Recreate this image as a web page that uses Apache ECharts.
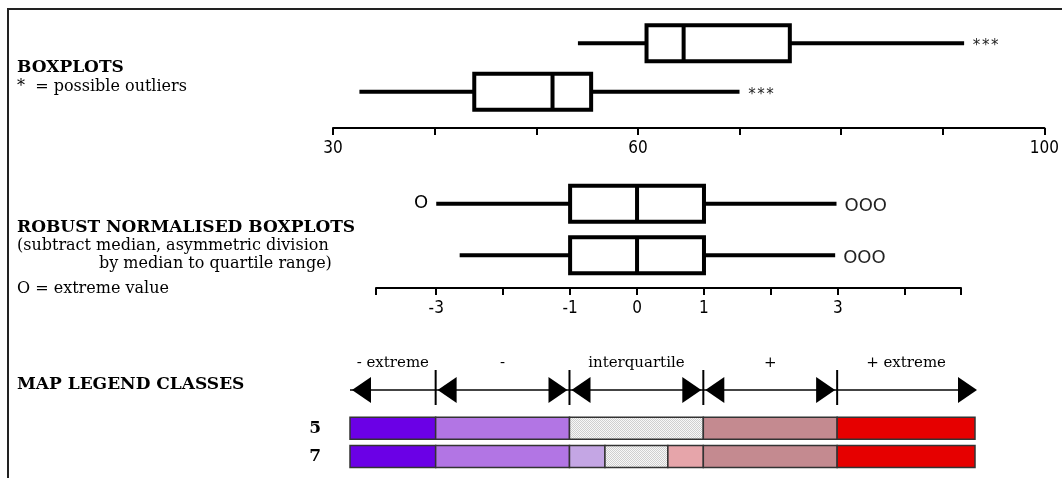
<!DOCTYPE html>
<html>
<head>
<meta charset="utf-8">
<style>
  html, body { margin: 0; padding: 0; background: #fff; }
  #chart { width: 1062px; height: 478px; }
</style>
<script src="https://cdn.jsdelivr.net/npm/echarts@6/dist/echarts.min.js"></script>
</head>
<body>
<div id="chart"></div>
<script>
// raw boxplots: low whisker, Q1, median, Q3, high whisker
const rawRows = ['A', 'B']
const rawBoxes = [
  [54.1, 60.85, 64.5, 74.95, 92.1],
  [32.6, 43.9, 51.6, 55.4, 70.0]
]
const rawLowMarks = ['', '']
const rawHighMarks = ['***', '***']
const rawLabels = [30, 60, 100]

// robust normalised boxplots
const normRows = ['A', 'B']
const normBoxes = [
  [-3.0, -1.0, 0, 1.0, 2.98],
  [-2.65, -1.0, 0, 1.0, 2.96]
]
const normLowMarks = ['O', '']
const normHighMarks = ['OOO', 'OOO']
const normTicks = [-3.9, -3, -2, -1, 0, 1, 2, 3, 4, 4.84]
const normLabels = [-3, -1, 0, 1, 3]

// map legend classes (same normalised units)
const classBreaks = [-4.28, -3, -1, 1, 3, 5.06]
const classNames = ['- extreme', '-', 'interquartile', '+', '+ extreme']
const legendRows = ['5', '7']
const legend5Breaks = [-4.28, -3, -1, 1, 3, 5.06]
const legend7Breaks = [-4.28, -3, -1, -0.47, 0.47, 1, 3, 5.06]

// dotted fill for the interquartile class
const dots = document.createElement('canvas')
dots.width = dots.height = 2
const g = dots.getContext('2d')
g.fillStyle = '#f7f7f7'
g.fillRect(0, 0, 2, 2)
g.fillStyle = '#cfcfcf'
g.fillRect(0, 0, 1, 1)
g.fillRect(1, 1, 1, 1)
const dotFill = { image: dots, repeat: 'repeat' }

const pal5 = ['#6b00e6', '#b275e4', dotFill, '#c48a90', '#e60000']
const pal7 = ['#6b00e6', '#b275e4', '#c4a6e4', dotFill, '#e6a5aa', '#c48a90', '#e60000']

const serif = '"DejaVu Serif", "Liberation Serif", serif'
const narrow = '"Liberation Sans Narrow", "DejaVu Sans Condensed", sans-serif'

// box + whiskers drawn through the axis scales
const boxRender = (lowMarks, highMarks, markFont) => (params, api) => {
  const row = api.value(0)
  const lo = api.coord([api.value(1), row])
  const q1 = api.coord([api.value(2), row])
  const md = api.coord([api.value(3), row])
  const q3 = api.coord([api.value(4), row])
  const hi = api.coord([api.value(5), row])
  const y = lo[1]
  const h = 36
  const ink = { stroke: '#000', lineWidth: 4 }
  return {
    type: 'group',
    children: [
      { type: 'line', shape: { x1: lo[0], y1: y, x2: q1[0], y2: y }, style: ink },
      { type: 'line', shape: { x1: q3[0], y1: y, x2: hi[0], y2: y }, style: ink },
      { type: 'rect', shape: { x: q1[0], y: y - h / 2, width: q3[0] - q1[0], height: h },
        style: { fill: '#fff', stroke: '#000', lineWidth: 4 } },
      { type: 'line', shape: { x1: md[0], y1: y - h / 2, x2: md[0], y2: y + h / 2 }, style: ink },
      { type: 'text', x: lo[0] - 8, y: y,
        style: { text: lowMarks[params.dataIndex], font: markFont, fill: '#000', align: 'right', verticalAlign: 'middle' } },
      { type: 'text', x: hi[0] + 8, y: y + 3,
        style: { text: highMarks[params.dataIndex], font: markFont, fill: '#222', align: 'left', verticalAlign: 'middle' } }
    ]
  }
}

const arrowHead = (tip, y, dir) => ({
  type: 'polygon',
  shape: { points: [[tip, y], [tip + dir * 19, y - 13], [tip + dir * 19, y + 13]] },
  style: { fill: '#000' }
})

const chart = echarts.init(document.getElementById('chart'))
const option = {
  animation: false,
  backgroundColor: '#fff',
  grid: [
    { left: 333, right: 14, top: 19, height: 97 },
    { left: 376, right: 101, top: 178, height: 103 },
    { left: 350, right: 87, top: 370, height: 40 },
    { left: 350, right: 87, top: 414, height: 56.5 }
  ],
  xAxis: [
    {
      gridIndex: 0, type: 'value', min: 30, max: 100, interval: 10, offset: 12,
      axisLine: { show: true, lineStyle: { color: '#000', width: 2 } },
      axisTick: { show: true, length: 7, lineStyle: { color: '#000', width: 2 } },
      splitLine: { show: false },
      axisLabel: { customValues: rawLabels, color: '#000', fontSize: 17, fontFamily: narrow, margin: 12 }
    },
    {
      gridIndex: 1, type: 'value', min: -3.9, max: 4.84, offset: 7,
      axisLine: { show: true, lineStyle: { color: '#000', width: 2 } },
      axisTick: { show: true, customValues: normTicks, length: 7, lineStyle: { color: '#000', width: 2 } },
      splitLine: { show: false },
      axisLabel: { customValues: normLabels, color: '#000', fontSize: 17, fontFamily: narrow, margin: 12 }
    },
    { gridIndex: 2, type: 'value', min: -4.28, max: 5.06, show: false },
    { gridIndex: 3, type: 'value', min: -4.28, max: 5.06, show: false }
  ],
  yAxis: [
    { gridIndex: 0, type: 'category', data: rawRows, inverse: true, show: false },
    { gridIndex: 1, type: 'category', data: normRows, inverse: true, show: false },
    { gridIndex: 2, type: 'category', data: ['classes'], show: false },
    {
      gridIndex: 3, type: 'category', data: legendRows, inverse: true,
      axisLine: { show: false }, axisTick: { show: false },
      axisLabel: { color: '#000', fontSize: 17, fontWeight: 'bold', fontFamily: serif, margin: 29 }
    }
  ],
  series: [
    {
      type: 'custom', xAxisIndex: 0, yAxisIndex: 0,
      renderItem: boxRender(rawLowMarks, rawHighMarks, '15px "DejaVu Sans Mono", monospace'),
      encode: { x: [1, 2, 3, 4, 5], y: 0 },
      data: rawBoxes.map((b, i) => [i, ...b])
    },
    {
      type: 'custom', xAxisIndex: 1, yAxisIndex: 1,
      renderItem: boxRender(normLowMarks, normHighMarks, '18px "DejaVu Sans", sans-serif'),
      encode: { x: [1, 2, 3, 4, 5], y: 0 },
      data: normBoxes.map((b, i) => [i, ...b])
    },
    {
      type: 'custom', xAxisIndex: 2, yAxisIndex: 2,
      encode: { x: [0, 1], y: 2 },
      data: classNames.map((n, i) => [classBreaks[i], classBreaks[i + 1], 0]),
      renderItem: (params, api) => {
        const i = params.dataIndex
        const last = classNames.length - 1
        const a = api.coord([api.value(0), 0])
        const b = api.coord([api.value(1), 0])
        const y = a[1]
        const kids = [
          { type: 'line', shape: { x1: a[0], y1: y, x2: b[0], y2: y }, style: { stroke: '#444', lineWidth: 2 } },
          { type: 'text', x: (a[0] + b[0]) / 2, y: y - 27,
            style: { text: classNames[i], font: '15px ' + serif, fill: '#000', align: 'center', verticalAlign: 'middle' } }
        ]
        if (i !== last) kids.push(arrowHead(a[0] + 2, y, 1))
        if (i !== 0) kids.push(arrowHead(b[0] - (i < last ? 2 : -2), y, -1))
        if (i > 0) kids.push({ type: 'line', shape: { x1: a[0], y1: y - 20, x2: a[0], y2: y + 15 }, style: { stroke: '#000', lineWidth: 2 } })
        return { type: 'group', children: kids }
      }
    },
    {
      type: 'custom', xAxisIndex: 3, yAxisIndex: 3,
      encode: { x: [1, 2], y: 0 },
      data: [legend5Breaks, legend7Breaks].flatMap((br, r) =>
        br.slice(0, -1).map((v, k) => [r, v, br[k + 1], k])),
      renderItem: (params, api) => {
        const r = api.value(0)
        const a = api.coord([api.value(1), r])
        const b = api.coord([api.value(2), r])
        const h = 22
        const fill = (r === 0 ? pal5 : pal7)[api.value(3)]
        return {
          type: 'rect',
          shape: { x: a[0], y: a[1] - h / 2, width: b[0] - a[0], height: h },
          style: { fill: fill, stroke: '#333', lineWidth: 1.5 }
        }
      }
    }
  ],
  graphic: [
    { type: 'line', shape: { x1: 8, y1: 9, x2: 1062, y2: 9 }, style: { stroke: '#222', lineWidth: 2 } },
    { type: 'line', shape: { x1: 8, y1: 8, x2: 8, y2: 478 }, style: { stroke: '#222', lineWidth: 2 } },
    { type: 'text', x: 17, y: 68, style: { text: 'BOXPLOTS', font: 'bold 17px ' + serif, fill: '#000', verticalAlign: 'middle' } },
    { type: 'text', x: 17, y: 87, style: { text: '*  = possible outliers', font: '16px ' + serif, fill: '#000', verticalAlign: 'middle' } },
    { type: 'text', x: 17, y: 228, style: { text: 'ROBUST NORMALISED BOXPLOTS', font: 'bold 17px ' + serif, fill: '#000', verticalAlign: 'middle' } },
    { type: 'text', x: 17, y: 246, style: { text: '(subtract median, asymmetric division', font: '16px ' + serif, fill: '#000', verticalAlign: 'middle' } },
    { type: 'text', x: 99, y: 264, style: { text: 'by median to quartile range)', font: '16px ' + serif, fill: '#000', verticalAlign: 'middle' } },
    { type: 'text', x: 17, y: 289, style: { text: 'O = extreme value', font: '16px ' + serif, fill: '#000', verticalAlign: 'middle' } },
    { type: 'text', x: 17, y: 385, style: { text: 'MAP LEGEND CLASSES', font: 'bold 17px ' + serif, fill: '#000', verticalAlign: 'middle' } }
  ]
}
chart.setOption(option)
</script>
</body>
</html>
